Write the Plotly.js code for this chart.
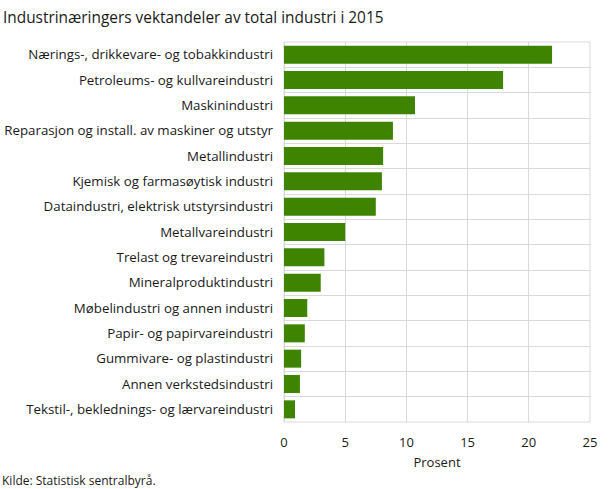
<!DOCTYPE html>
<html>
<head>
<meta charset="utf-8">
<script src="https://cdn.plot.ly/plotly-3.0.1.min.js"></script>
<style>html,body{margin:0;padding:0;background:#fff;}#chart{width:609px;height:489px;}</style>
</head>
<body>
<div id="chart"></div>
<script>
const categories = [
  "Nærings-, drikkevare- og tobakkindustri",
  "Petroleums- og kullvareindustri",
  "Maskinindustri",
  "Reparasjon og install. av maskiner og utstyr",
  "Metallindustri",
  "Kjemisk og farmasøytisk industri",
  "Dataindustri, elektrisk utstyrsindustri",
  "Metallvareindustri",
  "Trelast og trevareindustri",
  "Mineralproduktindustri",
  "Møbelindustri og annen industri",
  "Papir- og papirvareindustri",
  "Gummivare- og plastindustri",
  "Annen verkstedsindustri",
  "Tekstil-, beklednings- og lærvareindustri"
];
const values = [21.9, 17.9, 10.7, 8.9, 8.1, 8.0, 7.5, 5.0, 3.3, 3.0, 1.9, 1.7, 1.4, 1.3, 0.9];
const xTicks = [0, 5, 10, 15, 20, 25];

const font = "'Open Sans', 'DejaVu Sans', sans-serif";
const grid = "#d9d9d9";
const txt = "#1a1a1a";

Plotly.newPlot("chart", [{
  type: "bar",
  orientation: "h",
  x: values,
  y: categories,
  marker: {color: "#3f8400"},
  hoverinfo: "x+y"
}], {
  width: 609,
  height: 489,
  margin: {l: 284, r: 19, t: 42, b: 67, pad: 0},
  paper_bgcolor: "#fff",
  plot_bgcolor: "#fff",
  bargap: 0.29,
  font: {family: font, size: 13, color: txt},
  title: {
    text: "Industrinæringers vektandeler av total industri i 2015",
    x: 0.005, xanchor: "left", y: 0.965, yanchor: "middle",
    font: {family: font, size: 15.4, color: txt}
  },
  xaxis: {
    range: [0, 25],
    tickvals: xTicks,
    ticktext: xTicks.map(String),
    showgrid: true,
    gridcolor: grid,
    gridwidth: 1,
    zeroline: true,
    zerolinecolor: grid,
    zerolinewidth: 1,
    showline: false,
    ticks: "",
    ticklabelstandoff: 11,
    tickfont: {family: font, size: 13, color: txt},
    title: {text: "Prosent", standoff: 7, font: {family: font, size: 13, color: txt}},
    fixedrange: true
  },
  yaxis: {
    type: "category",
    autorange: "reversed",
    tickson: "boundaries",
    showgrid: true,
    gridcolor: grid,
    gridwidth: 1,
    ticks: "",
    ticklabelstandoff: 10,
    showline: false,
    tickfont: {family: font, size: 13.3, color: txt},
    fixedrange: true
  },
  shapes: [{
    type: "rect", xref: "paper", yref: "paper", x0: 0, x1: 1, y0: 0, y1: 1,
    line: {color: grid, width: 1}, layer: "below"
  }],
  annotations: [{
    text: "Kilde: Statistisk sentralbyrå.",
    xref: "paper", yref: "paper",
    x: -284/306, y: -0.155, xanchor: "left", yanchor: "middle",
    showarrow: false,
    font: {family: font, size: 12, color: txt}
  }],
  showlegend: false
}, {displayModeBar: false, staticPlot: true});
</script>
</body>
</html>
